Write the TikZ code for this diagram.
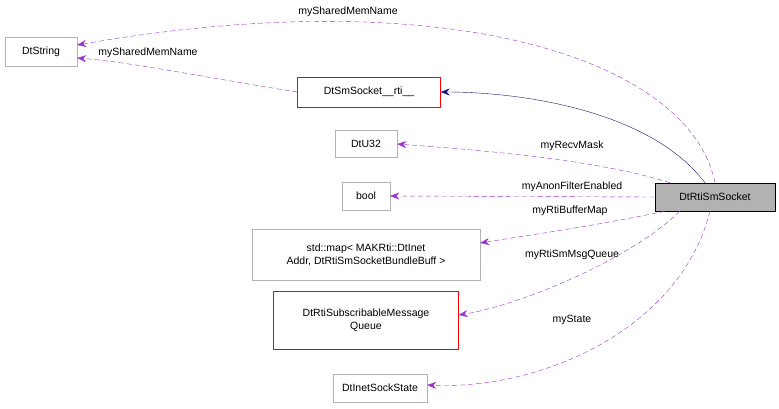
\documentclass[tikz,border=0pt]{standalone}
\usepackage{fontspec}
\setmainfont{Liberation Sans}
\usetikzlibrary{arrows.meta}
\definecolor{memcol}{HTML}{9A32CD}
\definecolor{inhcol}{HTML}{191970}
\begin{document}
\begin{tikzpicture}[x=1pt,y=-1pt,font=\fontsize{10.5}{13}\selectfont,
  cls/.style={draw=black!30,fill=white,align=center,inner sep=0pt},
  red/.style={cls,draw=red},
  mem/.style={draw=memcol,dash pattern=on 5pt off 3pt,-{Stealth[length=9pt,width=7pt]}},
  inh/.style={draw=inhcol,-{Stealth[length=9pt,width=7pt]}},
  lbl/.style={inner sep=1pt}]
  \useasboundingbox (0,0) rectangle (779,409);
  % classes
  \node[cls,minimum width=72,minimum height=29] (str) at (41,52) {DtString};
  \node[red,minimum width=143,minimum height=30] (rti) at (369,92) {DtSmSocket\_\_rti\_\_};
  \node[cls,minimum width=62,minimum height=27] (u32) at (366,144) {DtU32};
  \node[cls,minimum width=48,minimum height=28] (bool) at (366,196) {bool};
  \node[cls,minimum width=228,minimum height=51] (map) at (366,255)
    {std::map\textless{} MAKRti::DtInet\\Addr, DtRtiSmSocketBundleBuff \textgreater};
  \node[red,minimum width=185,minimum height=58] (queue) at (366,320)
    {DtRtiSubscribableMessage\\Queue};
  \node[cls,minimum width=94,minimum height=28] (state) at (380,388) {DtInetSockState};
  \node[cls,draw=black,fill=black!30,minimum width=120,minimum height=28] (sock) at (715,197) {DtRtiSmSocket};
  % links
  \draw[inh] (sock.north) ++(-10,0) coordinate (s0) .. controls (650,110) and (520,92) .. (rti.east);
  \draw[mem] (sock.north) .. controls (690,60) and (450,-20) .. (str.east |- 0,45);
  \node[lbl] (l0) at (348,12) {mySharedMemName};
  \draw[mem] (rti.west) .. controls (220,80) and (130,62) .. (str.east |- 0,58);
  \node[lbl] (l1) at (148,53) {mySharedMemName};
  \draw[mem] (sock.north west) ++(15,0) coordinate (s1) .. controls (600,160) and (480,150) .. (u32.east);
  \node[lbl] (l2) at (572,146) {myRecvMask};
  \draw[mem] (sock.west) -- (bool.east);
  \node[lbl] (l3) at (572,187) {myAnonFilterEnabled};
  \draw[mem] (sock.south west) ++(10,0) coordinate (s2) .. controls (600,225) and (530,235) .. (map.east |- 0,243);
  \node[lbl] (l4) at (570,211) {myRtiBufferMap};
  \draw[mem] (sock.south west) ++(25,0) coordinate (s3) .. controls (630,260) and (520,305) .. (queue.east |- 0,315);
  \node[lbl] (l5) at (572,255) {myRtiSmMsgQueue};
  \draw[mem] (sock.south) ++(-5,0) coordinate (s4) .. controls (680,330) and (540,390) .. (state.east |- 0,385);
  \node[lbl] (l6) at (572,320) {myState};
\end{tikzpicture}
\end{document}
